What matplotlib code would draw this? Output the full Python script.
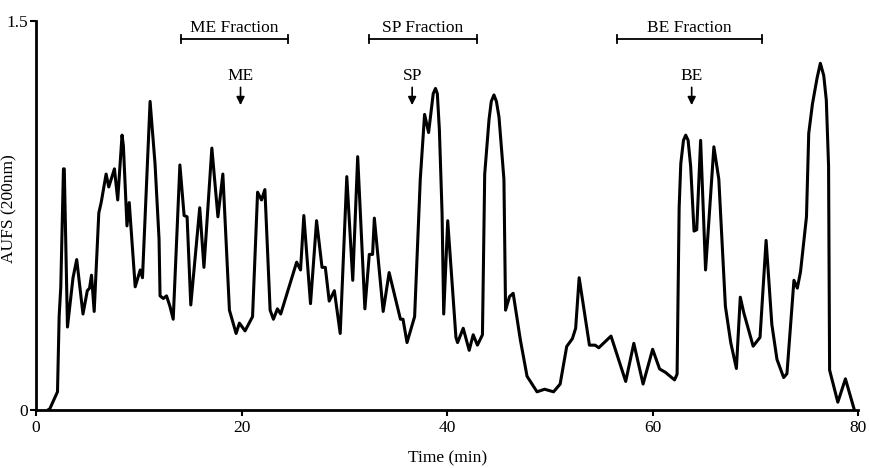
import numpy as np
import matplotlib.pyplot as plt

plt.rcParams['font.family'] = ['Liberation Serif', 'DejaVu Serif']

# chromatogram trace
time = [1.2, 1.29, 2.09, 2.25, 2.41, 2.67, 2.75, 3.06, 3.6, 3.96, 4.57, 4.99, 5.21, 5.4, 5.66,
        6.11, 6.34, 6.82, 7.08, 7.63, 7.95, 8.37, 8.5, 8.85, 9.07, 9.65, 10.14, 10.36, 11.1,
        11.58, 11.97, 12.07, 12.39, 12.7, 13.03, 13.35, 14.0, 14.41, 14.7, 15.06, 15.93, 16.34,
        17.11, 17.7, 18.18, 18.82, 19.47, 19.79, 20.34, 21.07, 21.56, 21.94, 22.27, 22.78, 23.1,
        23.49, 23.81, 25.36, 25.74, 26.06, 26.71, 27.3, 27.83, 28.15, 28.53, 29.03, 29.6, 30.24,
        30.82, 31.3, 32.0, 32.43, 32.75, 32.92, 33.78, 34.36, 35.46, 35.71, 36.1, 36.84, 37.39,
        37.81, 38.2, 38.65, 38.87, 39.05, 39.25, 39.51, 39.67, 40.06, 40.86, 41.02, 41.57, 42.15,
        42.54, 42.95, 43.44, 43.66, 44.08, 44.3, 44.56, 44.8, 45.05, 45.53, 45.69, 46.07, 46.43,
        47.13, 47.78, 48.75, 49.49, 50.36, 51.0, 51.64, 52.19, 52.51, 52.85, 53.85, 54.4, 54.76,
        55.95, 57.38, 58.17, 59.07, 60.0, 60.68, 61.25, 62.13, 62.38, 62.58, 62.74, 63.0, 63.22,
        63.45, 63.7, 64.03, 64.29, 64.67, 65.15, 65.96, 66.44, 67.08, 67.6, 68.15, 68.53, 68.87,
        69.78, 70.45, 71.04, 71.6, 72.1, 72.75, 73.07, 73.75, 74.08, 74.39, 74.97, 75.19, 75.55,
        76.0, 76.32, 76.65, 76.9, 77.12, 77.22, 78.02, 78.76, 79.63]
aufs = [0.0, 0.0, 0.07, 0.36, 0.475, 0.93, 0.93, 0.32, 0.51, 0.58, 0.37, 0.46, 0.47, 0.52, 0.38,
        0.76, 0.80, 0.91, 0.86, 0.93, 0.81, 1.06, 1.02, 0.71, 0.80, 0.475, 0.54, 0.51, 1.19,
        0.95, 0.66, 0.44, 0.43, 0.44, 0.40, 0.35, 0.945, 0.75, 0.745, 0.405, 0.78, 0.55,
        1.01, 0.745, 0.91, 0.385, 0.295, 0.335, 0.305, 0.36, 0.84, 0.81, 0.85, 0.385, 0.35,
        0.39, 0.37, 0.57, 0.54, 0.75, 0.41, 0.73, 0.55, 0.55, 0.42, 0.46, 0.295, 0.90,
        0.50, 0.977, 0.39, 0.60, 0.60, 0.74, 0.38, 0.53, 0.35, 0.35, 0.26, 0.36, 0.89,
        1.14, 1.07, 1.22, 1.24, 1.22, 1.08, 0.76, 0.37, 0.73, 0.28, 0.26, 0.315, 0.23,
        0.29, 0.25, 0.29, 0.91, 1.12, 1.19, 1.215, 1.19, 1.13, 0.89, 0.385, 0.437, 0.45,
        0.27, 0.13, 0.07, 0.08, 0.07, 0.10, 0.245, 0.275, 0.315, 0.51, 0.25, 0.25, 0.24,
        0.285, 0.11, 0.257, 0.10, 0.234, 0.158, 0.145, 0.116, 0.138, 0.78, 0.95, 1.04, 1.06,
        1.04, 0.94, 0.69, 0.695, 1.04, 0.54, 1.015, 0.89, 0.40, 0.26, 0.16, 0.435, 0.375,
        0.246, 0.28, 0.654, 0.33, 0.195, 0.125, 0.14, 0.50, 0.47, 0.533, 0.745, 1.067, 1.18,
        1.28, 1.337, 1.29, 1.195, 0.94, 0.154, 0.03, 0.12, 0.0]

fractions = ["ME Fraction", "SP Fraction", "BE Fraction"]
frac_start = [14.1, 32.4, 56.5]
frac_end = [24.5, 42.9, 70.6]
markers = ["ME", "SP", "BE"]
marker_time = [19.9, 36.6, 63.8]

fig = plt.figure(figsize=(8.7, 4.68), dpi=100)
ax = fig.add_axes([0.0414, 0.124, 0.945, 0.831])

ax.plot(time, aufs, color='black', lw=2.2, solid_joinstyle='round')

for name, a, b in zip(fractions, frac_start, frac_end):
    ax.plot([a, b], [1.43, 1.43], color='black', lw=1.3, clip_on=False)
    ax.plot([a, a], [1.415, 1.445], color='black', lw=1.3, clip_on=False)
    ax.plot([b, b], [1.415, 1.445], color='black', lw=1.3, clip_on=False)
    ax.text((a + b) / 2, 1.474, name, ha='center', va='center', fontsize=12.5)

for name, t in zip(markers, marker_time):
    ax.text(t, 1.287, name, ha='center', va='center', fontsize=12.5)
    ax.annotate('', xy=(t, 1.165), xytext=(t, 1.255),
                arrowprops=dict(arrowstyle='-|>', color='black', lw=1.2, mutation_scale=12))

ax.set_xlim(0, 80)
ax.set_ylim(0, 1.5)
ax.set_xticks([0, 20, 40, 60, 80])
ax.set_yticks([0, 1.5])
ax.set_yticklabels(['0', '1.5'])
ax.spines['top'].set_visible(False)
ax.spines['right'].set_visible(False)
ax.spines['left'].set_linewidth(2)
ax.spines['bottom'].set_linewidth(2)
ax.tick_params(labelsize=12.5, width=1.5, length=4)
ax.tick_params(axis='y', pad=2)
ax.set_xlabel("Time (min)", fontsize=12.5)
ax.set_ylabel("AUFS (200nm)", fontsize=12.5)
ax.xaxis.set_label_coords(0.5, -0.105)
ax.yaxis.set_label_coords(-0.023, 0.517)

plt.savefig("out.png", dpi=100)
